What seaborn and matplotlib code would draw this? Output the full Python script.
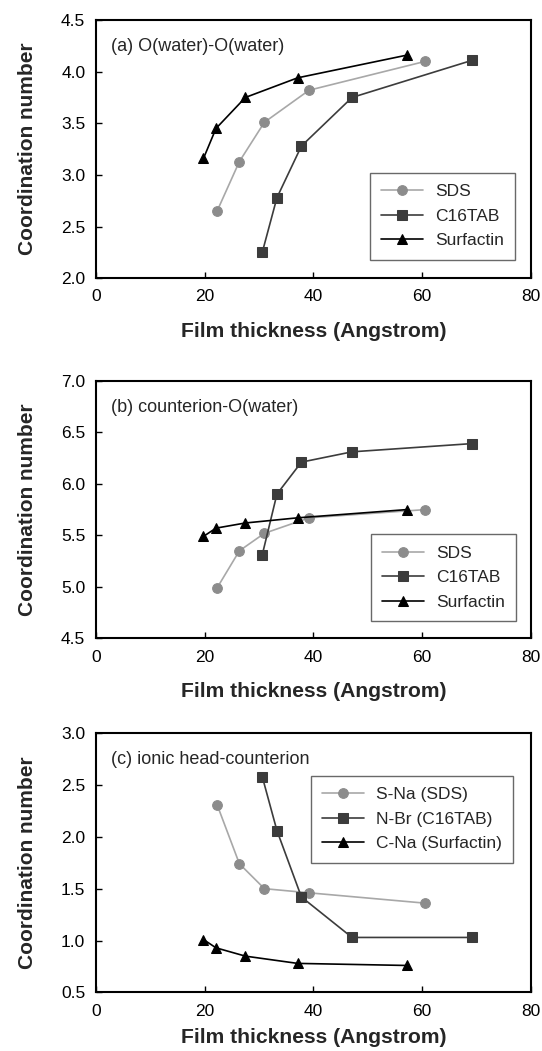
import matplotlib
matplotlib.use("Agg")
import matplotlib.pyplot as plt
import seaborn as sns
import pandas as pd

sns.set_theme(style="ticks")
plt.rcParams['font.family'] = ['Liberation Sans', 'DejaVu Sans']

# Film thickness (Angstrom)
x_sds = [22.3, 26.4, 31.0, 39.2, 60.6]
x_ctab = [30.6, 33.3, 37.8, 47.1, 69.2]
x_surf = [19.8, 22.1, 27.5, 37.1, 57.2]

# (a) O(water)-O(water)
a_sds = [2.65, 3.13, 3.51, 3.82, 4.10]
a_ctab = [2.25, 2.78, 3.28, 3.75, 4.11]
a_surf = [3.16, 3.45, 3.75, 3.94, 4.16]

# (b) counterion-O(water)
b_sds = [4.99, 5.35, 5.52, 5.67, 5.75]
b_ctab = [5.31, 5.90, 6.21, 6.31, 6.39]
b_surf = [5.49, 5.57, 5.62, 5.67, 5.75]

# (c) ionic head-counterion
c_sds = [2.31, 1.74, 1.50, 1.46, 1.36]
c_ctab = [2.58, 2.06, 1.42, 1.03, 1.03]
c_surf = [1.01, 0.93, 0.85, 0.78, 0.76]

titles = ["(a) O(water)-O(water)", "(b) counterion-O(water)", "(c) ionic head-counterion"]
legend_ab = ["SDS", "C16TAB", "Surfactin"]
legend_c = ["S-Na (SDS)", "N-Br (C16TAB)", "C-Na (Surfactin)"]
ylims = [(2.0, 4.5), (4.5, 7.0), (0.5, 3.0)]

styles = [
    dict(color="#a8a8a8", marker="o", markerfacecolor="#8c8c8c", markeredgecolor="#8c8c8c", markersize=7),
    dict(color="#3c3c3c", marker="s", markerfacecolor="#3c3c3c", markeredgecolor="#3c3c3c", markersize=6.5),
    dict(color="#000000", marker="^", markerfacecolor="#000000", markeredgecolor="#000000", markersize=7),
]

fig = plt.figure(figsize=(5.42, 10.51), dpi=100)
L, W = 0.1766, 0.8032
rects = [
    [L, 0.7352, W, 0.2458],
    [L, 0.3925, W, 0.2453],
    [L, 0.0557, W, 0.2469],
]
panels = [
    (a_sds, a_ctab, a_surf, legend_ab, (0.630, 0.072), 12.5),
    (b_sds, b_ctab, b_surf, legend_ab, (0.632, 0.066), 12.5),
    (c_sds, c_ctab, c_surf, legend_c, (0.494, 0.500), 6.5),
]

for i, (rect, (ys, yc, yf, labels, legpos, xlpad)) in enumerate(zip(rects, panels)):
    ax = fig.add_axes(rect)
    xs_all = [x_sds, x_ctab, x_surf]
    ys_all = [ys, yc, yf]
    for xv, yv, lab, st in zip(xs_all, ys_all, labels, styles):
        df = pd.DataFrame({"x": xv, "y": yv})
        sns.lineplot(data=df, x="x", y="y", ax=ax, sort=False, label=lab,
                     linewidth=1.2, **st)
    ax.set_xlim(0, 80)
    ax.set_ylim(*ylims[i])
    ax.set_xticks([0, 20, 40, 60, 80])
    lo, hi = ylims[i]
    ticks = [lo + 0.5 * k for k in range(6)]
    ax.set_yticks(ticks)
    ax.set_yticklabels([f"{t:.1f}" for t in ticks])
    ax.tick_params(direction="in", length=4, width=1, labelsize=12.5, colors="black")
    ax.tick_params(axis="x", pad=8)
    ax.tick_params(axis="y", pad=7.5)
    for sp in ax.spines.values():
        sp.set_linewidth(1.5)
        sp.set_color("black")
    ax.set_xlabel("Film thickness (Angstrom)", fontsize=15.2, fontweight="bold", labelpad=xlpad)
    ax.set_ylabel("Coordination number", fontsize=15, fontweight="bold", labelpad=17)
    ax.text(0.035, 0.897, titles[i], transform=ax.transAxes, fontsize=13, ha="left", va="center")
    leg = ax.legend(loc="lower left", bbox_to_anchor=legpos, fontsize=12.5, frameon=True,
                    fancybox=False, edgecolor="#444444", handlelength=2.4,
                    borderpad=0.65, labelspacing=0.55, borderaxespad=0, handletextpad=0.7)
    leg.get_frame().set_linewidth(1.0)

fig.savefig("out.png", dpi=100)
